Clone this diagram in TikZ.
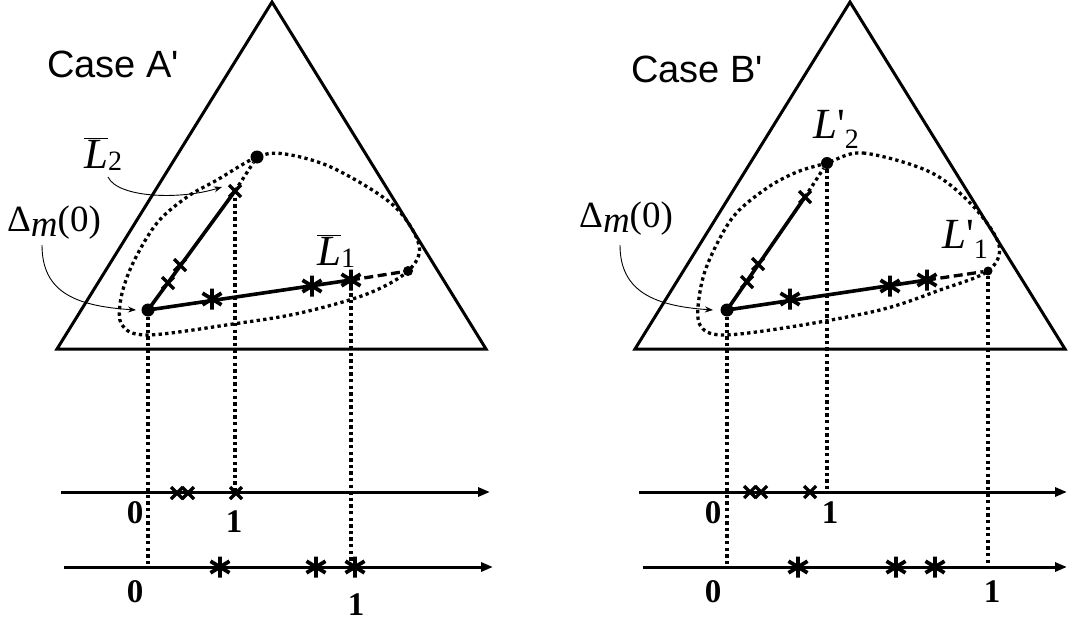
\documentclass[tikz,border=0pt]{standalone}
\usepackage{fontspec}
\setmainfont{Liberation Serif}
\newfontfamily\arialf{Liberation Sans}
\usetikzlibrary{arrows.meta}
\newcommand\mysubfont{\fontsize{28}{28}\selectfont}
\begin{document}
\begin{tikzpicture}[x=1pt,y=-1pt,
  tri/.style={line width=3pt, line join=miter},
  seg/.style={line width=3.6pt},
  dotl/.style={line width=3.3pt, dash pattern=on 3.3pt off 3.3pt},
  dashl/.style={line width=3.3pt, dash pattern=on 9pt off 4.5pt},
  axis/.style={line width=3pt, -{Triangle[length=12pt,width=9pt]}},
  thinarr/.style={line width=0.9pt, -{Stealth[length=8pt,width=6pt]}},
  bigdot/.style={circle, fill, inner sep=0pt, minimum size=13pt},
  smalldot/.style={circle, fill, inner sep=0pt, minimum size=10pt},
  lab/.style={font=\fontsize{43}{43}\selectfont, inner sep=0pt},
  dlab/.style={font=\fontsize{37}{37}\selectfont, inner sep=0pt},
  num/.style={font=\fontsize{33}{33}\selectfont\bfseries, inner sep=0pt},
  case/.style={font=\arialf\fontsize{38}{38}\selectfont, inner sep=0pt},
  xm/.pic={\draw[line width=3.2pt] (-6,-6)--(6,6) (-6,6)--(6,-6);},
  ast/.pic={\draw[line width=3.8pt] (0,-10.5)--(0,10.5) (-9.5,-5.8)--(9.5,5.8) (-9.5,5.8)--(9.5,-5.8);}
]
\path[use as bounding box, fill=white] (0,0) rectangle (1068,621);

% ================= LEFT: Case A' =================
\coordinate (LA) at (272,2);
\coordinate (LB) at (57,349);
\coordinate (LC) at (486,349);
\draw[tri] (LA) -- (LB) -- (LC) -- cycle;

\node[case, anchor=base west] (caseA) at (47,77) {Case A\textquotesingle};

% dotted closed curve
\draw[dotl] plot[smooth cycle, tension=0.55] coordinates {
 (257,157) (285,154) (333,168) (393,205) (419,245) (408,271) (367,294)
 (300,313) (233,324) (148,335) (122,325) (121,298) (133,263) (157,223)
 (187,197) (217,180)};

\coordinate (LO) at (148,310);
\coordinate (LX2) at (235,191);
\coordinate (LS1) at (351,280);
\node[bigdot] (LD2) at (257,157) {};
\node[smalldot] (LD1) at (408,271) {};

% axes
\coordinate (LU0) at (61,492);  \coordinate (LU1) at (490,492);
\coordinate (LW0) at (64,567);  \coordinate (LW1) at (493,567);
\draw[axis] (LU0) -- (LU1);
\draw[axis] (LW0) -- (LW1);

% vertical projections
\coordinate (LOp) at (148,567);
\coordinate (LX2p) at (235,492);
\coordinate (LS1p) at (351,567);
\draw[dotl] (LO) -- (LOp);
\draw[dotl] (LX2) -- (LX2p);
\draw[dotl] (LS1) -- (LS1p);

% segments
\draw[seg] (LO) -- (LX2);
\draw[dotl] (LX2) -- (LD2);
\draw[seg] (LO) -- (LS1);
\draw[dashl] (LS1) -- (LD1);

% marks on segments
\pic at (168,283) {xm};
\pic at (180,265) {xm};
\pic at (LX2) {xm};
\pic at (212,299) {ast};
\pic at (312,286) {ast};
\pic at (LS1) {ast};

\node[bigdot] at (LO) {};

% marks on axes
\pic at (177,493) {xm};
\pic at (188,493) {xm};
\pic at (236,493) {xm};
\pic at (220,567) {ast};
\pic at (316,567) {ast};
\pic at (355,567) {ast};

% axis numbers
\node[num, anchor=base] (lu0) at (135,523) {0};
\node[num, anchor=base] (lu1) at (234,532) {1};
\node[num, anchor=base] (lw0) at (135,602) {0};
\node[num, anchor=base] (lw1) at (356,615) {1};

% labels
\node[lab, anchor=base west] (L2bar) at (84,168) {$\overline{\hbox{\itshape L}}$\raisebox{-2pt}{\mysubfont 2}};
\node[lab, anchor=base west] (L1bar) at (317,265) {$\overline{\hbox{\itshape L}}$\raisebox{-2pt}{\mysubfont 1}};
\node[dlab, anchor=base west] (Dl) at (7,231) {Δ\raisebox{-5pt}{\itshape m}(0)};

\coordinate (a1s) at (42,245);
\coordinate (a1e) at (136,310);
\draw[thinarr] (a1s) .. controls (42,292) and (75,306) .. (a1e);
\coordinate (a2s) at (108,177);
\coordinate (a2e) at (222,187);
\draw[thinarr] (a2s) .. controls (118,198) and (180,200) .. (a2e);

% ================= RIGHT: Case B' =================
\coordinate (RA) at (850,2);
\coordinate (RB) at (635,349);
\coordinate (RC) at (1065,349);
\draw[tri] (RA) -- (RB) -- (RC) -- cycle;

\node[case, anchor=base west] (caseB) at (631,82) {Case B\textquotesingle};

\draw[dotl] plot[smooth cycle, tension=0.55] coordinates {
 (827,163) (863,153) (930,172) (973,206) (999,245) (988,271) (940,290)
 (880,310) (790,327) (722,335) (700,325) (699,298) (708,263) (733,217)
 (767,188) (797,172)};

\coordinate (RO) at (727,310);
\coordinate (RX2) at (805,197);
\coordinate (RS1) at (927,280);
\node[bigdot, minimum size=12pt] (RD2) at (827,163) {};
\node[smalldot, minimum size=9pt] (RD1) at (988,271) {};

\coordinate (RU0) at (639,492);  \coordinate (RU1) at (1067,492);
\coordinate (RW0) at (643,567);  \coordinate (RW1) at (1067,567);
\draw[axis] (RU0) -- (RU1);
\draw[axis] (RW0) -- (RW1);

\coordinate (ROp) at (727,567);
\coordinate (RD2p) at (827,492);
\coordinate (RD1p) at (988,567);
\draw[dotl] (RO) -- (ROp);
\draw[dotl] (RD2) -- (RD2p);
\draw[dotl] (RD1) -- (RD1p);

\draw[seg] (RO) -- (RX2);
\draw[dotl] (RX2) -- (RD2);
\draw[seg] (RO) -- (RS1);
\draw[dashl] (RS1) -- (RD1);

\pic at (747,282) {xm};
\pic at (758,264) {xm};
\pic at (RX2) {xm};
\pic at (790,299) {ast};
\pic at (890,286) {ast};
\pic at (RS1) {ast};

\node[bigdot] at (RO) {};

\pic at (750,492) {xm};
\pic at (761,492) {xm};
\pic at (810,492) {xm};
\pic at (798,567) {ast};
\pic at (896,567) {ast};
\pic at (935,567) {ast};

\node[num, anchor=base] (ru0) at (713,523) {0};
\node[num, anchor=base] (ru1) at (830,523) {1};
\node[num, anchor=base] (rw0) at (713,602) {0};
\node[num, anchor=base] (rw1) at (992,602) {1};

\node[lab, anchor=base west] (L2p) at (813,138) {{\itshape L}\textquotesingle\raisebox{-10pt}{\mysubfont 2}};
\node[lab, anchor=base west] (L1p) at (942,248) {{\itshape L}\textquotesingle\raisebox{-10pt}{\mysubfont 1}};
\node[dlab, anchor=base west] (Dr) at (579,227) {Δ\raisebox{-5pt}{\itshape m}(0)};

\coordinate (a3s) at (620,245);
\coordinate (a3e) at (713,310);
\draw[thinarr] (a3s) .. controls (620,292) and (655,306) .. (a3e);
\end{tikzpicture}
\end{document}
